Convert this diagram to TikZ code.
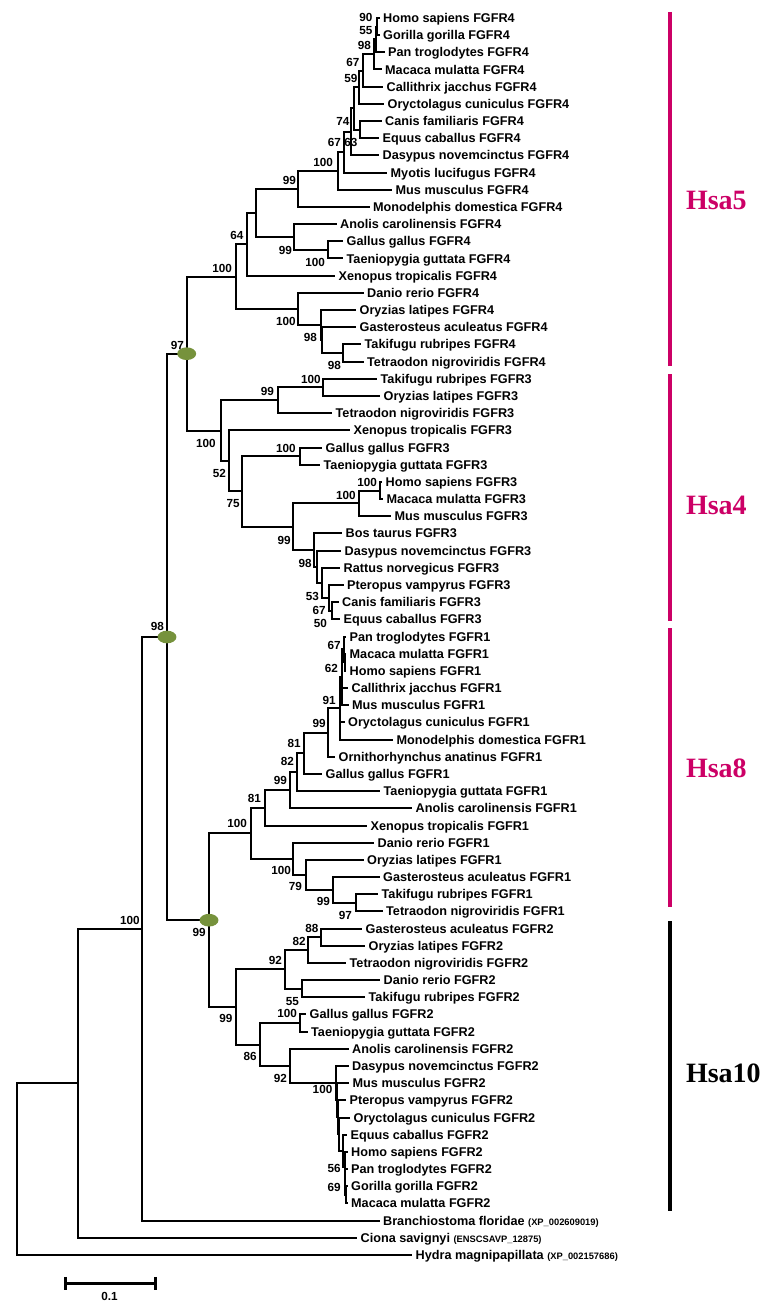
\documentclass[tikz,border=0pt]{standalone}
\usepackage{fontspec}
\setmainfont{Liberation Sans}
\newfontfamily\hsafont{Liberation Serif}
\usetikzlibrary{shapes.geometric}

\definecolor{hsapink}{RGB}{204,0,102}
\definecolor{knotgreen}{RGB}{118,146,60}

\newcommand{\accno}[1]{{\fontsize{7}{8}\selectfont #1}}

\tikzset{every picture/.style={line width=1.5pt}}
\tikzset{
  leaf/.style={anchor=west, inner xsep=2pt, inner ysep=0pt, text height=6.8pt, text depth=0pt, font=\fontsize{9.5}{11}\selectfont\bfseries},
  boot/.style={anchor=east, inner sep=0pt, text height=6.3pt, text depth=0pt, font=\fontsize{8.8}{10}\selectfont\bfseries},
  knot/.style={ellipse, fill=knotgreen, minimum width=14.2pt, minimum height=9.5pt, inner sep=0pt},
  hsabar/.style={line width=3pt},
  hsatext/.style={anchor=west, inner sep=0pt, text height=13.9pt, text depth=0pt, font=\hsafont\fontsize{21}{24}\selectfont\bfseries},
  scalebar/.style={line width=2.2pt}
}

\begin{document}
\begin{tikzpicture}[x=0.75pt,y=0.75pt,yscale=-1,xscale=1]
	\useasboundingbox (0,0) rectangle (763,1308);

	% Text Node -- FGFR4 leaves
	\node[leaf] (homo4) at (379.5,18.0) {Homo sapiens FGFR4};
	\node[leaf] (gorilla4) at (379.5,35.2) {Gorilla gorilla FGFR4};
	\node[leaf] (pan4) at (384.5,52.4) {Pan troglodytes FGFR4};
	\node[leaf] (macaca4) at (381.5,69.5) {Macaca mulatta FGFR4};
	\node[leaf] (calli4) at (383,86.7) {Callithrix jacchus FGFR4};
	\node[leaf] (oryc4) at (384,103.9) {Oryctolagus cuniculus FGFR4};
	\node[leaf] (canis4) at (381.5,121.1) {Canis familiaris FGFR4};
	\node[leaf] (equus4) at (379,138.3) {Equus caballus FGFR4};
	\node[leaf] (dasy4) at (379,155.4) {Dasypus novemcinctus FGFR4};
	\node[leaf] (myotis4) at (387,172.6) {Myotis lucifugus FGFR4};
	\node[leaf] (mus4) at (392,189.8) {Mus musculus FGFR4};
	\node[leaf] (mono4) at (369.5,207.0) {Monodelphis domestica FGFR4};
	\node[leaf] (anolis4) at (336.5,224.2) {Anolis carolinensis FGFR4};
	\node[leaf] (gallus4) at (343,241.3) {Gallus gallus FGFR4};
	\node[leaf] (taenio4) at (343,258.5) {Taeniopygia guttata FGFR4};
	\node[leaf] (xeno4) at (335,275.7) {Xenopus tropicalis FGFR4};
	\node[leaf] (danio4) at (363.5,292.9) {Danio rerio FGFR4};
	\node[leaf] (oryz4) at (356,310.1) {Oryzias latipes FGFR4};
	\node[leaf] (gaster4) at (356,327.2) {Gasterosteus aculeatus FGFR4};
	\node[leaf] (taki4) at (361,344.4) {Takifugu rubripes FGFR4};
	\node[leaf] (tetra4) at (363.5,361.6) {Tetraodon nigroviridis FGFR4};

	% Text Node -- FGFR3 leaves
	\node[leaf] (taki3) at (377,378.8) {Takifugu rubripes FGFR3};
	\node[leaf] (oryz3) at (380,396.0) {Oryzias latipes FGFR3};
	\node[leaf] (tetra3) at (332,413.1) {Tetraodon nigroviridis FGFR3};
	\node[leaf] (xeno3) at (350,430.3) {Xenopus tropicalis FGFR3};
	\node[leaf] (gallus3) at (322,447.5) {Gallus gallus FGFR3};
	\node[leaf] (taenio3) at (320,464.7) {Taeniopygia guttata FGFR3};
	\node[leaf] (homo3) at (382,481.9) {Homo sapiens FGFR3};
	\node[leaf] (macaca3) at (383,499.0) {Macaca mulatta FGFR3};
	\node[leaf] (mus3) at (391,516.2) {Mus musculus FGFR3};
	\node[leaf] (bos3) at (342,533.4) {Bos taurus FGFR3};
	\node[leaf] (dasy3) at (341,550.6) {Dasypus novemcinctus FGFR3};
	\node[leaf] (rattus3) at (340,567.8) {Rattus norvegicus FGFR3};
	\node[leaf] (ptero3) at (343.5,584.9) {Pteropus vampyrus FGFR3};
	\node[leaf] (canis3) at (338.5,602.1) {Canis familiaris FGFR3};
	\node[leaf] (equus3) at (340,619.3) {Equus caballus FGFR3};

	% Text Node -- FGFR1 leaves
	\node[leaf] (pan1) at (346,636.5) {Pan troglodytes FGFR1};
	\node[leaf] (macaca1) at (346,653.7) {Macaca mulatta FGFR1};
	\node[leaf] (homo1) at (346,670.8) {Homo sapiens FGFR1};
	\node[leaf] (calli1) at (348,688.0) {Callithrix jacchus FGFR1};
	\node[leaf] (mus1) at (348.5,705.2) {Mus musculus FGFR1};
	\node[leaf] (oryc1) at (344.5,722.4) {Oryctolagus cuniculus FGFR1};
	\node[leaf] (mono1) at (393,739.6) {Monodelphis domestica FGFR1};
	\node[leaf] (ornitho1) at (335,756.7) {Ornithorhynchus anatinus FGFR1};
	\node[leaf] (gallus1) at (322,773.9) {Gallus gallus FGFR1};
	\node[leaf] (taenio1) at (380,791.1) {Taeniopygia guttata FGFR1};
	\node[leaf] (anolis1) at (412,808.3) {Anolis carolinensis FGFR1};
	\node[leaf] (xeno1) at (367,825.5) {Xenopus tropicalis FGFR1};
	\node[leaf] (danio1) at (374,842.6) {Danio rerio FGFR1};
	\node[leaf] (oryz1) at (363.5,859.8) {Oryzias latipes FGFR1};
	\node[leaf] (gaster1) at (379.5,877.0) {Gasterosteus aculeatus FGFR1};
	\node[leaf] (taki1) at (378,894.2) {Takifugu rubripes FGFR1};
	\node[leaf] (tetra1) at (382.5,911.4) {Tetraodon nigroviridis FGFR1};

	% Text Node -- FGFR2 leaves and outgroups
	\node[leaf] (gaster2) at (362,928.5) {Gasterosteus aculeatus FGFR2};
	\node[leaf] (oryz2) at (365,945.7) {Oryzias latipes FGFR2};
	\node[leaf] (tetra2) at (346,962.9) {Tetraodon nigroviridis FGFR2};
	\node[leaf] (danio2) at (380,980.1) {Danio rerio FGFR2};
	\node[leaf] (taki2) at (365,997.3) {Takifugu rubripes FGFR2};
	\node[leaf] (gallus2) at (306,1014.4) {Gallus gallus FGFR2};
	\node[leaf] (taenio2) at (307.5,1031.6) {Taeniopygia guttata FGFR2};
	\node[leaf] (anolis2) at (348.5,1048.8) {Anolis carolinensis FGFR2};
	\node[leaf] (dasy2) at (348.5,1066.0) {Dasypus novemcinctus FGFR2};
	\node[leaf] (mus2) at (349,1083.2) {Mus musculus FGFR2};
	\node[leaf] (ptero2) at (346,1100.3) {Pteropus vampyrus FGFR2};
	\node[leaf] (oryc2) at (350,1117.5) {Oryctolagus cuniculus FGFR2};
	\node[leaf] (equus2) at (347,1134.7) {Equus caballus FGFR2};
	\node[leaf] (homo2) at (347.5,1151.9) {Homo sapiens FGFR2};
	\node[leaf] (pan2) at (347.5,1169.1) {Pan troglodytes FGFR2};
	\node[leaf] (gorilla2) at (347.5,1186.2) {Gorilla gorilla FGFR2};
	\node[leaf] (macaca2) at (347.5,1203.4) {Macaca mulatta FGFR2};
	\node[leaf] (branchio) at (379.5,1220.6) {Branchiostoma floridae \accno{(XP\_002609019)}};
	\node[leaf] (ciona) at (357,1237.8) {Ciona savignyi \accno{(ENSCSAVP\_12875)}};
	\node[leaf] (hydra) at (412,1255.0) {Hydra magnipapillata \accno{(XP\_002157686)}};

	% Internal nodes
	\coordinate (a1) at (377.3,26.6);
	\coordinate (a2) at (376,39.5);
	\coordinate (a3) at (374.3,54.5);
	\coordinate (a4) at (363,70.6);
	\coordinate (a5) at (358.5,87.3);
	\coordinate (b1) at (360,129.7);
	\coordinate (c1) at (354,108.5);
	\coordinate (c2) at (351,132.0);
	\coordinate (c3) at (344,152.3);
	\coordinate (c4) at (337.7,171.0);
	\coordinate (c5) at (297.7,189.0);
	\coordinate (d1) at (328,249.9);
	\coordinate (d2) at (294,237.0);
	\coordinate (c6) at (256,213.0);
	\coordinate (c7) at (246.7,244.4);
	\coordinate (e1) at (343.3,353.0);
	\coordinate (e2x) at (321.5,340.1);
	\coordinate (e2) at (320.7,325.1);
	\coordinate (e3) at (297.7,309.0);
	\coordinate (c8) at (236,276.7);

	\coordinate (g1) at (323.3,387.4);
	\coordinate (g2) at (277.7,400.3);
	\coordinate (h1) at (300,456.1);
	\coordinate (m0) at (380,490.5);
	\coordinate (m1) at (359.3,503.3);
	\coordinate (p1) at (331.5,610.7);
	\coordinate (p2) at (329,597.8);
	\coordinate (p3) at (321.7,582.8);
	\coordinate (p4) at (316.5,566.7);
	\coordinate (m2) at (314,550.0);
	\coordinate (m3) at (292.7,526.7);
	\coordinate (f3) at (241.7,491.4);
	\coordinate (f2) at (229,460.9);
	\coordinate (f1) at (221,430.6);
	\coordinate (r43) at (186.7,353.7);

	\coordinate (s1) at (344.5,662.3);
	\coordinate (s2) at (344,649.4);
	\coordinate (s3) at (342,677.3);
	\coordinate (s4) at (339.5,708.4);
	\coordinate (s5) at (328.3,732.5);
	\coordinate (s6) at (304,753.2);
	\coordinate (s7) at (296.7,772.2);
	\coordinate (s8) at (290,790.2);
	\coordinate (s9) at (265,807.9);
	\coordinate (t1) at (355.5,902.8);
	\coordinate (t2) at (333.3,889.9);
	\coordinate (t3) at (306,874.9);
	\coordinate (t4) at (293.3,858.8);
	\coordinate (q1) at (250.7,833.4);

	\coordinate (v1) at (321,937.1);
	\coordinate (v2) at (308.3,950.0);
	\coordinate (v3) at (302.3,988.7);
	\coordinate (v4) at (285,969.4);
	\coordinate (v5) at (300,1023.0);
	\coordinate (w1) at (345.5,1194.8);
	\coordinate (w2) at (345,1182.0);
	\coordinate (w3) at (344.5,1166.9);
	\coordinate (w4) at (343,1150.8);
	\coordinate (w5) at (339,1134.2);
	\coordinate (w6) at (338,1117.2);
	\coordinate (w7) at (337,1100.2);
	\coordinate (w8) at (336,1083.1);
	\coordinate (v6) at (290,1066.0);
	\coordinate (v7) at (260,1044.5);
	\coordinate (k1) at (235.5,1007.0);
	\coordinate (p12) at (209,920.2);
	\coordinate (rall) at (167,637.0);
	\coordinate (n100) at (141.7,928.8);
	\coordinate (chor) at (78.3,1083.3);
	\coordinate (root) at (16.7,1169.2);

	%Straight Lines -- FGFR4 branches
	\draw (a1) |- (homo4.west) (a1) |- (gorilla4.west);
	\draw (a2) |- (a1) (a2) |- (pan4.west);
	\draw (a3) |- (a2) (a3) |- (macaca4.west);
	\draw (a4) |- (a3) (a4) |- (calli4.west);
	\draw (a5) |- (a4) (a5) |- (oryc4.west);
	\draw (b1) |- (canis4.west) (b1) |- (equus4.west);
	\draw (c1) |- (a5) (c1) |- (b1);
	\draw (c2) |- (c1) (c2) |- (dasy4.west);
	\draw (c3) |- (c2) (c3) |- (myotis4.west);
	\draw (c4) |- (c3) (c4) |- (mus4.west);
	\draw (c5) |- (c4) (c5) |- (mono4.west);
	\draw (d1) |- (gallus4.west) (d1) |- (taenio4.west);
	\draw (d2) |- (anolis4.west) (d2) |- (d1);
	\draw (c6) |- (c5) (c6) |- (d2);
	\draw (c7) |- (c6) (c7) |- (xeno4.west);
	\draw (e1) |- (taki4.west) (e1) |- (tetra4.west);
	\draw (e2x) |- (gaster4.west) (e2x) |- (e1);
	\draw (e2) |- (oryz4.west) (e2) |- (e2x);
	\draw (e3) |- (danio4.west) (e3) |- (e2);
	\draw (c8) |- (c7) (c8) |- (e3);

	%Straight Lines -- FGFR3 branches
	\draw (g1) |- (taki3.west) (g1) |- (oryz3.west);
	\draw (g2) |- (g1) (g2) |- (tetra3.west);
	\draw (h1) |- (gallus3.west) (h1) |- (taenio3.west);
	\draw (m0) |- (homo3.west) (m0) |- (macaca3.west);
	\draw (m1) |- (m0) (m1) |- (mus3.west);
	\draw (p1) |- (canis3.west) (p1) |- (equus3.west);
	\draw (p2) |- (ptero3.west) (p2) |- (p1);
	\draw (p3) |- (rattus3.west) (p3) |- (p2);
	\draw (p4) |- (dasy3.west) (p4) |- (p3);
	\draw (m2) |- (bos3.west) (m2) |- (p4);
	\draw (m3) |- (m1) (m3) |- (m2);
	\draw (f3) |- (h1) (f3) |- (m3);
	\draw (f2) |- (xeno3.west) (f2) |- (f3);
	\draw (f1) |- (g2) (f1) |- (f2);
	\draw (r43) |- (c8) (r43) |- (f1);

	%Straight Lines -- FGFR1 branches
	\draw (s1) |- (macaca1.west) (s1) |- (homo1.west);
	\draw (s2) |- (pan1.west) (s2) |- (s1);
	\draw (s3) |- (s2) (s3) |- (calli1.west) (s3) |- (mus1.west);
	\draw (s4) |- (s3) (s4) |- (oryc1.west) (s4) |- (mono1.west);
	\draw (s5) |- (s4) (s5) |- (ornitho1.west);
	\draw (s6) |- (s5) (s6) |- (gallus1.west);
	\draw (s7) |- (s6) (s7) |- (taenio1.west);
	\draw (s8) |- (s7) (s8) |- (anolis1.west);
	\draw (s9) |- (s8) (s9) |- (xeno1.west);
	\draw (t1) |- (taki1.west) (t1) |- (tetra1.west);
	\draw (t2) |- (gaster1.west) (t2) |- (t1);
	\draw (t3) |- (oryz1.west) (t3) |- (t2);
	\draw (t4) |- (danio1.west) (t4) |- (t3);
	\draw (q1) |- (s9) (q1) |- (t4);

	%Straight Lines -- FGFR2 branches
	\draw (v1) |- (gaster2.west) (v1) |- (oryz2.west);
	\draw (v2) |- (v1) (v2) |- (tetra2.west);
	\draw (v3) |- (danio2.west) (v3) |- (taki2.west);
	\draw (v4) |- (v2) (v4) |- (v3);
	\draw (v5) |- (gallus2.west) (v5) |- (taenio2.west);
	\draw (w1) |- (gorilla2.west) (w1) |- (macaca2.west);
	\draw (w2) |- (pan2.west) (w2) |- (w1);
	\draw (w3) |- (homo2.west) (w3) |- (w2);
	\draw (w4) |- (equus2.west) (w4) |- (w3);
	\draw (w5) |- (oryc2.west) (w5) |- (w4);
	\draw (w6) |- (ptero2.west) (w6) |- (w5);
	\draw (w7) |- (mus2.west) (w7) |- (w6);
	\draw (w8) |- (dasy2.west) (w8) |- (w7);
	\draw (v6) |- (anolis2.west) (v6) |- (w8);
	\draw (v7) |- (v5) (v7) |- (v6);
	\draw (k1) |- (v4) (k1) |- (v7);

	%Straight Lines -- deep branches
	\draw (p12) |- (q1) (p12) |- (k1);
	\draw (rall) |- (r43) (rall) |- (p12);
	\draw (n100) |- (rall) (n100) |- (branchio.west);
	\draw (chor) |- (n100) (chor) |- (ciona.west);
	\draw (root) |- (chor) (root) |- (hydra.west);

	% Ellipse markers
	\node[knot] (k97) at (r43) {};
	\node[knot] (k98) at (rall) {};
	\node[knot] (k99) at (p12) {};

	% Text Node -- bootstrap values, FGFR4
	\node[boot] (bs01) at (373.5,17) {90};
	\node[boot] (bs02) at (373.5,30) {55};
	\node[boot] (bs03) at (372,45) {98};
	\node[boot] (bs04) at (360.5,62) {67};
	\node[boot] (bs05) at (358.5,78.7) {59};
	\node[boot] (bs06) at (350.5,121.7) {74};
	\node[boot] (bs07) at (358.5,142.5) {63};
	\node[boot] (bs08) at (342,142.5) {67};
	\node[boot] (bs09) at (334,162) {100};
	\node[boot] (bs10) at (297,180) {99};
	\node[boot] (bs11) at (244.5,235) {64};
	\node[boot] (bs12) at (293,250) {99};
	\node[boot] (bs13) at (326,262) {100};
	\node[boot] (bs14) at (233,268) {100};
	\node[boot] (bs15) at (296.7,321.7) {100};
	\node[boot] (bs16) at (318,337) {98};
	\node[boot] (bs17) at (342,365) {98};
	\node[boot] (bs18) at (185,345) {97};

	% Text Node -- bootstrap values, FGFR3
	\node[boot] (bs19) at (321.7,379) {100};
	\node[boot] (bs20) at (275,391.7) {99};
	\node[boot] (bs21) at (216.7,443) {100};
	\node[boot] (bs22) at (296.7,448.5) {100};
	\node[boot] (bs23) at (227,473) {52};
	\node[boot] (bs24) at (378,482.5) {100};
	\node[boot] (bs25) at (356.7,495) {100};
	\node[boot] (bs26) at (240.7,503) {75};
	\node[boot] (bs27) at (291.7,540) {99};
	\node[boot] (bs28) at (312.7,563) {98};
	\node[boot] (bs29) at (320,596.7) {53};
	\node[boot] (bs30) at (326.7,610) {67};
	\node[boot] (bs31) at (328,623) {50};
	\node[boot] (bs32) at (165,626.7) {98};

	% Text Node -- bootstrap values, FGFR1
	\node[boot] (bs33) at (341.7,645) {67};
	\node[boot] (bs34) at (339,668) {62};
	\node[boot] (bs35) at (336.7,700) {91};
	\node[boot] (bs36) at (326.7,723) {99};
	\node[boot] (bs37) at (301.7,743) {81};
	\node[boot] (bs38) at (295,761.7) {82};
	\node[boot] (bs39) at (288,780) {99};
	\node[boot] (bs40) at (262,798) {81};
	\node[boot] (bs41) at (248,823) {100};
	\node[boot] (bs42) at (292,870) {100};
	\node[boot] (bs43) at (303,886.7) {79};
	\node[boot] (bs44) at (331,901.7) {99};
	\node[boot] (bs45) at (353,915) {97};
	\node[boot] (bs46) at (206.7,932.5) {99};

	% Text Node -- bootstrap values, FGFR2 and root
	\node[boot] (bs47) at (319.3,928) {88};
	\node[boot] (bs48) at (306.7,941.7) {82};
	\node[boot] (bs49) at (283,960) {92};
	\node[boot] (bs50) at (300,1001.7) {55};
	\node[boot] (bs51) at (298,1013) {100};
	\node[boot] (bs52) at (233.3,1018) {99};
	\node[boot] (bs53) at (257.7,1056.7) {86};
	\node[boot] (bs54) at (288,1078.5) {92};
	\node[boot] (bs55) at (333.3,1089) {100};
	\node[boot] (bs56) at (341.7,1168) {56};
	\node[boot] (bs57) at (341.7,1187) {69};
	\node[boot] (bs58) at (140.7,920) {100};

	% Chromosome bars
	\draw[hsabar, hsapink] (670,12) -- (670,366);
	\draw[hsabar, hsapink] (670,374) -- (670,621);
	\draw[hsabar, hsapink] (670,628) -- (670,907);
	\draw[hsabar, black] (670,921) -- (670,1211);
	\node[hsatext, text=hsapink] (hsa5) at (685,200) {Hsa5};
	\node[hsatext, text=hsapink] (hsa4) at (685,505) {Hsa4};
	\node[hsatext, text=hsapink] (hsa8) at (685,768) {Hsa8};
	\node[hsatext, text=black] (hsa10) at (685,1073) {Hsa10};

	% Scale bar
	\coordinate (sbl) at (65.7,1283.3);
	\coordinate (sbr) at (155.7,1283.3);
	\draw[scalebar] (sbl) -- (sbr);
	\draw[scalebar] (sbl) ++(0,-6.5) -- ++(0,13);
	\draw[scalebar] (sbr) ++(0,-6.5) -- ++(0,13);
	\node[boot, anchor=center] (sbtext) at (109.5,1296) {0.1};

\end{tikzpicture}
\end{document}
